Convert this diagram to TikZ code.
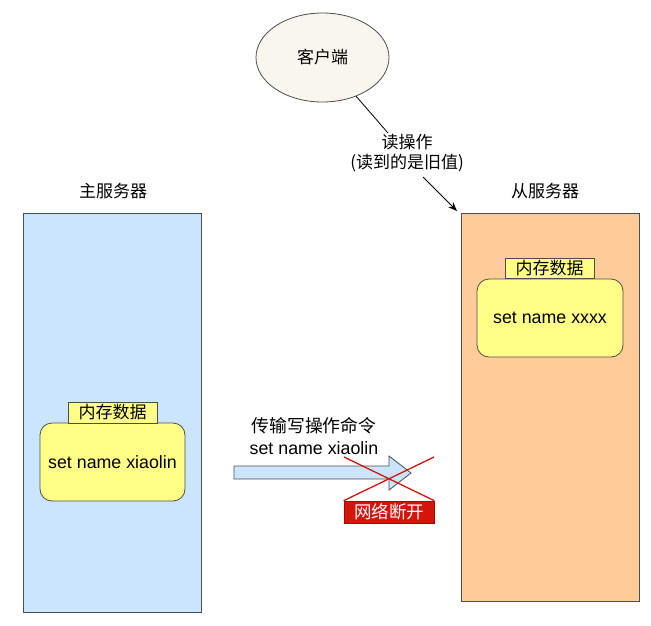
\documentclass[tikz,border=0pt]{standalone}
\usepackage{fontspec}
\setmainfont{Liberation Sans}
\newfontfamily\cjk{Noto Sans CJK SC}
\usetikzlibrary{shapes.geometric,arrows.meta}
\definecolor{blueF}{HTML}{CCE5FF}
\definecolor{orangeF}{HTML}{FFCC99}
\definecolor{yellowF}{HTML}{FFFF88}
\definecolor{ellF}{HTML}{F9F7ED}
\definecolor{redF}{HTML}{D4150C}
\definecolor{redD}{HTML}{B20000}
\definecolor{strokeC}{HTML}{4D4D4D}
\begin{document}
\begin{tikzpicture}[x=1pt,y=-1pt,
  txt/.style={font=\fontsize{17.8}{21}\selectfont},
  ctxt/.style={font=\fontsize{17}{20}\selectfont\cjk},
  server/.style={draw=strokeC,line width=1pt},
  memlabel/.style={draw=strokeC,fill=yellowF,line width=0.8pt,inner sep=0pt,font=\fontsize{17}{20}\selectfont\cjk},
  membox/.style={draw=strokeC,fill=yellowF,line width=0.8pt,rounded corners=12pt,inner sep=0pt,font=\fontsize{17.8}{21}\selectfont},
]
\useasboundingbox (0,0) rectangle (651,625);
% servers
\node[server,fill=blueF,minimum width=178pt,minimum height=399pt,inner sep=0pt] (master) at (112,412.5) {};
\node[server,fill=orangeF,minimum width=178pt,minimum height=388pt,inner sep=0pt] (slave) at (550,407) {};
\node[ctxt] (mlabel) at (113,191) {主服务器};
\node[ctxt] (slabel) at (545,191) {从服务器};
% memory boxes
\node[membox,minimum width=145pt,minimum height=78pt] (mmem) at (112.5,462) {set name xiaolin};
\node[memlabel,minimum width=89pt,minimum height=21pt] (mmemlab) at (112.5,412.5) {内存数据};
\node[membox,minimum width=146pt,minimum height=78pt] (smem) at (550,318) {set name xxxx};
\node[memlabel,minimum width=89pt,minimum height=20pt] (smemlab) at (549.5,268) {内存数据};
% client
\node[ellipse,draw=strokeC,fill=ellF,line width=0.8pt,minimum width=133pt,minimum height=89pt,inner sep=0pt,font=\fontsize{17}{20}\selectfont\cjk] (client) at (322.5,57.5) {客户端};
\coordinate (lend) at (388,133);
\coordinate (lstart) at (423,177);
\coordinate (rt) at (457,211);
\node[ctxt,align=center,inner sep=1pt] (readlab) at (407,153) {读操作\\(读到的是旧值)};
\draw[line width=0.8pt] (client) -- (lend);
\draw[line width=0.8pt,-{Stealth[length=9pt,width=7pt]}] (lstart) -- (rt);
% block arrow
\coordinate (sa) at (234,466);
\draw[draw=strokeC,fill=blueF,line width=0.8pt,line join=miter] (sa) -- (389,466) -- (389,456) -- (411,473) -- (389,490) -- (389,479) -- (234,479) -- cycle;
\node[txt,align=center,inner sep=0pt] (synclab) at (314,436) {{\cjk 传输写操作命令}\\[1pt]set name xiaolin};
% broken network
\node[fill=redF,draw=redD,line width=0.6pt,text=white,minimum width=90pt,minimum height=22pt,inner sep=0pt,font=\fontsize{17.5}{19}\selectfont\cjk] (cut) at (389,512) {网络断开};
\coordinate (xa) at (344,457);
\coordinate (xb) at (434,457);
\draw[redF,line width=1.3pt] (xa) -- (cut.north east);
\draw[redF,line width=1.3pt] (xb) -- (cut.north west);
\end{tikzpicture}
\end{document}
